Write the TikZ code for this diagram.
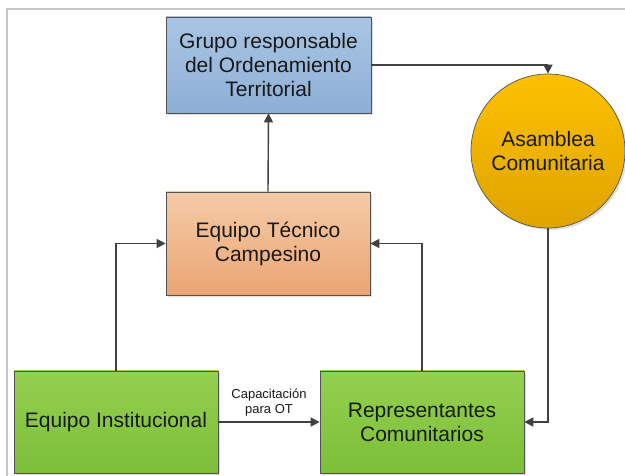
\documentclass[tikz,border=0pt]{standalone}
\usepackage{fontspec}
\setmainfont{Liberation Sans}
\usetikzlibrary{arrows.meta,shadows}
\definecolor{lineg}{HTML}{404040}
\definecolor{frameg}{HTML}{C8C8C8}
\tikzset{
  box/.style={draw=lineg!90, line width=0.7pt, align=center, inner sep=2pt,
    font=\fontsize{21}{24}\selectfont, text=black!90,
    drop shadow={opacity=0.25, shadow xshift=2pt, shadow yshift=-2pt}},
  bluebox/.style={box, top color=blue1, bottom color=blue2, minimum width=205pt, minimum height=96pt},
  orangebox/.style={box, top color=or1, bottom color=or2, minimum width=204pt, minimum height=103pt},
  greenbox/.style={box, top color=gr1, bottom color=gr2, minimum width=204pt, minimum height=102pt},
  circbox/.style={box, circle, top color=ye1, bottom color=ye2, minimum size=154pt},
  conn/.style={draw=lineg, line width=1.4pt, -{Triangle[width=9pt,length=9pt]}},
  lbl/.style={font=\fontsize{13}{15}\selectfont, align=center, text=black!90}
}
\definecolor{blue1}{HTML}{AAC5E3}
\definecolor{blue2}{HTML}{8DAFD6}
\definecolor{or1}{HTML}{F4CBA8}
\definecolor{or2}{HTML}{EBA572}
\definecolor{gr1}{HTML}{94D050}
\definecolor{gr2}{HTML}{7CBF38}
\definecolor{ye1}{HTML}{FDC000}
\definecolor{ye2}{HTML}{DFA400}
\begin{document}
\begin{tikzpicture}[x=1pt,y=-1pt]
\useasboundingbox (0,0) rectangle (625,476);
\fill[white] (0,0) rectangle (625,476);
\draw[frameg, line width=1.2pt] (7,476) -- (7,9) -- (625,9);

\node[bluebox] (blue) at (268.5,65) {Grupo responsable\\del Ordenamiento\\Territorial};
\node[orangebox] (orange) at (268,243.5) {Equipo Técnico\\Campesino};
\node[greenbox] (gl) at (116,422) {Equipo Institucional};
\node[greenbox] (gr) at (422,422) {Representantes\\Comunitarios};
\node[circbox] (circ) at (548,151) {Asamblea\\Comunitaria};

\draw[conn] (blue.east) -| (circ.north);
\draw[conn] (orange.north) -- (blue.south);
\draw[conn] (gl.north) |- (orange.west);
\draw[conn] (gr.north) |- (orange.east);
\draw[conn] (circ.south) |- (gr.east);
\draw[conn] (gl.east) -- node[lbl, above=2pt] (cap) {Capacitación\\para OT} (gr.west);
\end{tikzpicture}
\end{document}
